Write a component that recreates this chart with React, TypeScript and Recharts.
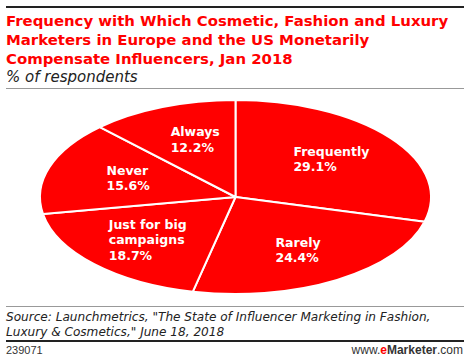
import { PieChart, Pie, Cell } from "recharts";

// share of respondents, clockwise from 12 o'clock
const categories = ["Frequently", "Rarely", "Just for big campaigns", "Never", "Always"];
const shares = [29.1, 24.4, 18.7, 15.6, 12.2];

const RED = "#ff0000";
const W = 470;
const H = 362;
const CX = 235.5;
const CY = 197;
const RX = 195.5;
const RY = 97;
const K = RY / RX; // vertical squash of the pie

const data = categories.map((name, i) => ({ name, value: shares[i] }));

const RAD = Math.PI / 180;
const pt = (cx: number, cy: number, r: number, a: number) => [cx + r * Math.cos(a * RAD), cy - r * K * Math.sin(a * RAD)];

// draws the recharts sector as an ellipse slice
const EllipseSector = (p: any) => {
  const { cx, cy, outerRadius, startAngle, endAngle, fill } = p;
  const [x1, y1] = pt(cx, cy, outerRadius, startAngle);
  const [x2, y2] = pt(cx, cy, outerRadius, endAngle);
  const large = Math.abs(startAngle - endAngle) > 180 ? 1 : 0;
  const sweep = startAngle > endAngle ? 1 : 0;
  const d = `M${cx},${cy} L${x1},${y1} A${outerRadius},${outerRadius * K} 0 ${large} ${sweep} ${x2},${y2} Z`;
  return <path d={d} fill={fill} stroke="#fff" strokeWidth={2} strokeLinejoin="round" />;
};

const wrap = (s: string, max = 12) => {
  const out: string[] = [];
  let cur = "";
  s.split(" ").forEach((w) => {
    if (cur && (cur + " " + w).length > max) { out.push(cur); cur = w; } else cur = cur ? cur + " " + w : w;
  });
  if (cur) out.push(cur);
  return out;
};

const SliceLabel = (p: any) => {
  const { cx, cy, midAngle, outerRadius, name, value } = p;
  const x = cx + outerRadius * 0.6 * Math.cos(midAngle * RAD);
  const y = cy - outerRadius * K * 0.64 * Math.sin(midAngle * RAD);
  const lines = [...wrap(name), value.toFixed(1) + "%"];
  const longest = Math.max(...lines.map((l) => l.length));
  const lh = 15.5;
  const x0 = x - (longest * 7) / 2;
  const y0 = y - ((lines.length - 1) * lh) / 2 + 4.5;
  return (
    <text x={x0} y={y0} fill="#fff" fontFamily="DejaVu Sans" fontWeight="bold" fontSize={12.5} textAnchor="start">
      {lines.map((l, i) => (
        <tspan key={i} x={x0} dy={i === 0 ? 0 : lh}>{l}</tspan>
      ))}
    </text>
  );
};

export default function App() {
  return (
    <div style={{ position: "absolute", left: 0, top: 0, width: W, height: H, background: "#fff", overflow: "hidden" }}>
      {/* Header */}
      <div style={{ position: "absolute", left: 6, top: 6, width: 458, height: 2, background: "#222" }} />
      <div style={{ position: "absolute", left: 6, top: 12, fontFamily: "DejaVu Sans", fontWeight: "bold", fontSize: 14.9, lineHeight: "19px", color: RED, whiteSpace: "nowrap" }}>
        Frequency with Which Cosmetic, Fashion and Luxury<br />
        Marketers in Europe and the US Monetarily<br />
        Compensate Influencers, Jan 2018
      </div>
      <div style={{ position: "absolute", left: 6, top: 68, fontFamily: "DejaVu Sans", fontStyle: "italic", fontSize: 15, lineHeight: "18px", color: "#222", whiteSpace: "nowrap" }}>
        % of respondents
      </div>
      <div style={{ position: "absolute", left: 6, top: 88, width: 458, height: 1, background: "#999" }} />

      <div style={{ position: "absolute", left: 0, top: 0 }}>
        <PieChart width={W} height={H} margin={{ top: 0, right: 0, bottom: 0, left: 0 }}>
          <Pie
            data={data}
            dataKey="value"
            nameKey="name"
            cx={CX}
            cy={CY}
            outerRadius={RX}
            startAngle={90}
            endAngle={-270}
            stroke="#fff"
            shape={EllipseSector}
            inactiveShape={EllipseSector}
            activeShape={EllipseSector}
            label={SliceLabel}
            labelLine={false}
            isAnimationActive={false}
          >
            {data.map((d) => <Cell key={d.name} fill={RED} />)}
          </Pie>
        </PieChart>
      </div>

      {/* Footer */}
      <div style={{ position: "absolute", left: 6, top: 306, width: 458, height: 1, background: "#999" }} />
      <div style={{ position: "absolute", left: 6, top: 309.5, fontFamily: "DejaVu Sans", fontStyle: "italic", fontSize: 12.1, lineHeight: "15px", color: "#222", whiteSpace: "nowrap" }}>
        Source: Launchmetrics, "The State of Influencer Marketing in Fashion,<br />
        Luxury &amp; Cosmetics," June 18, 2018
      </div>
      <div style={{ position: "absolute", left: 6, top: 340, width: 458, height: 2, background: "#222" }} />
      <div style={{ position: "absolute", left: 6, top: 344, fontFamily: "Liberation Sans", fontSize: 11, color: "#333" }}>239071</div>
      <div style={{ position: "absolute", right: 7, top: 343, fontFamily: "Liberation Sans", fontSize: 12, color: "#333" }}>
        www.<b style={{ color: RED }}>e</b><b>Marketer</b>.com
      </div>
    </div>
  );
}
